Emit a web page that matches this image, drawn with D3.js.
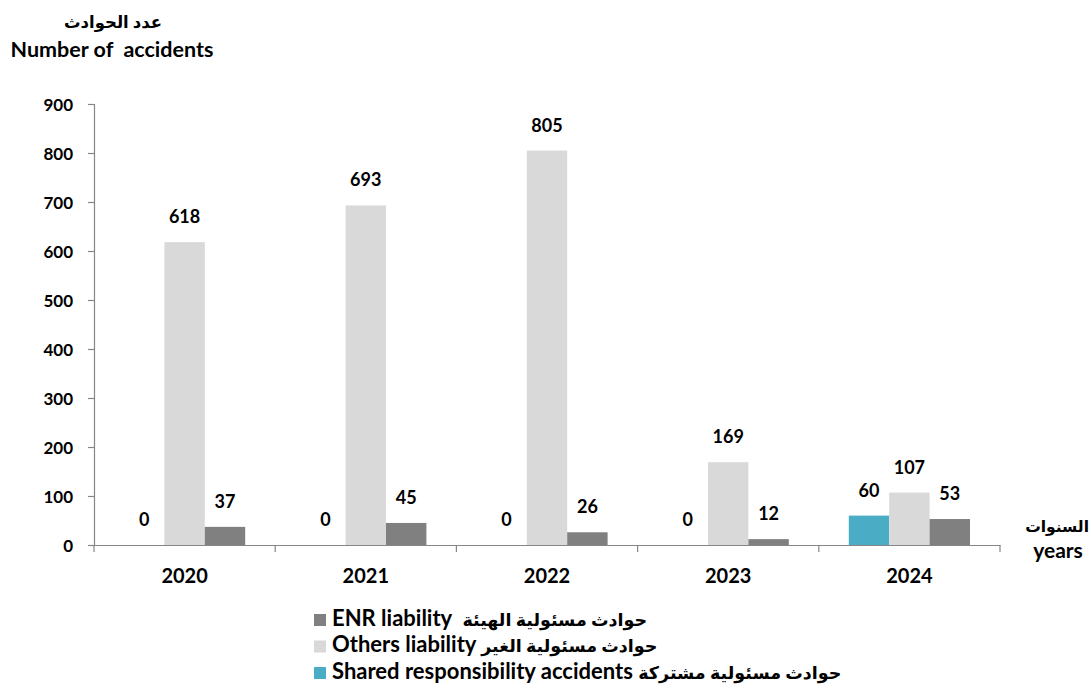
<!DOCTYPE html>
<html>
<head>
<meta charset="utf-8">
<script src="https://cdn.jsdelivr.net/npm/d3@7"></script>
<style>
  body { margin: 0; background: #fff; }
  text { font-family: Lato, "DejaVu Sans", sans-serif; font-weight: 700; fill: #000; }
</style>
</head>
<body>
<div id="chart"></div>
<script>
// chart data
const years = ["2020", "2021", "2022", "2023", "2024"];
const seriesNames = ["shared", "others", "enr"];
const sharedValues = [0, 0, 0, 0, 60];
const othersValues = [618, 693, 805, 169, 107];
const enrValues = [37, 45, 26, 12, 53];
const yTicks = [0, 100, 200, 300, 400, 500, 600, 700, 800, 900];
const legendEnglish = ["ENR liability  ", "Others liability ", "Shared responsibility accidents "];
const legendArabic = ["حوادث مسئولية الهيئة", "حوادث مسئولية الغير", "حوادث مسئولية مشتركة"];

const colors = { shared: "#4bacc6", others: "#d9d9d9", enr: "#808080" };

const width = 1091, height = 698;
const margin = { left: 94, right: 91, top: 104, bottom: 153 };

const svg = d3.select('#chart')
  .append('svg')
  .attr('width', width)
  .attr('height', height);

const x = d3.scaleBand()
  .domain(years)
  .range([margin.left, width - margin.right])
  .paddingInner(0)
  .paddingOuter(0);

const xInner = d3.scaleBand()
  .domain(seriesNames)
  .range([30, x.bandwidth() - 30]);

const y = d3.scaleLinear()
  .domain([0, 900])
  .range([height - margin.bottom, margin.top]);

// build rows
const rows = years.map((yr, i) => ({
  year: yr,
  values: [
    { key: "shared", value: sharedValues[i] },
    { key: "others", value: othersValues[i] },
    { key: "enr", value: enrValues[i] }
  ]
}));

// bars
const groups = svg.selectAll('g.year')
  .data(rows)
  .join('g')
  .attr('class', 'year')
  .attr('transform', d => `translate(${x(d.year)},0)`);

groups.selectAll('rect')
  .data(d => d.values)
  .join('rect')
  .attr('x', d => xInner(d.key))
  .attr('y', d => y(d.value))
  .attr('width', xInner.bandwidth())
  .attr('height', d => y(0) - y(d.value))
  .attr('fill', d => colors[d.key]);

groups.selectAll('text.lbl')
  .data(d => d.values)
  .join('text')
  .attr('class', 'lbl')
  .attr('x', d => xInner(d.key) + xInner.bandwidth() / 2)
  .attr('y', d => y(d.value) - 19)
  .attr('text-anchor', 'middle')
  .attr('font-size', '18px')
  .text(d => d.value);

// y axis
const yAxis = svg.append('g')
  .attr('transform', `translate(${margin.left},0)`)
  .call(d3.axisLeft(y).tickValues(yTicks).tickSize(6).tickPadding(15));
yAxis.selectAll('text').attr('font-size', '17px').attr('dy', '0.36em');

// x axis
const xAxis = svg.append('g')
  .attr('transform', `translate(0,${y(0)})`)
  .call(d3.axisBottom(x).tickSize(0).tickPadding(24));
xAxis.selectAll('text').attr('font-size', '20px').attr('dy', '0.71em');

// x tick marks at category boundaries
xAxis.selectAll('line.sep')
  .data(years.concat(['end']))
  .join('line')
  .attr('class', 'sep')
  .attr('x1', (d, i) => i < years.length ? x(d) : x.range()[1])
  .attr('x2', (d, i) => i < years.length ? x(d) : x.range()[1])
  .attr('y1', 0)
  .attr('y2', 7);

svg.selectAll('.domain, .tick line, line.sep')
  .attr('stroke', '#868686')
  .attr('stroke-width', 1.2);

// axis titles
svg.append('text')
  .attr('x', 113).attr('y', 28)
  .attr('text-anchor', 'middle')
  .attr('font-size', '16.5px')
  .text('عدد الحوادث');
svg.append('text')
  .attr('x', 112).attr('y', 57)
  .attr('text-anchor', 'middle')
  .attr('font-size', '21.5px')
  .style('white-space', 'pre')
  .text('Number of  accidents');

svg.append('text')
  .attr('x', 1089).attr('y', 532)
  .attr('text-anchor', 'end')
  .attr('font-size', '15.5px')
  .text('السنوات');
svg.append('text')
  .attr('x', 1058).attr('y', 558)
  .attr('text-anchor', 'middle')
  .attr('font-size', '21px')
  .text('years');

// legend
const legendKeys = ["enr", "others", "shared"];
const legend = svg.append('g');
legendKeys.forEach((k, i) => {
  const ly = 620 + i * 26.5;
  legend.append('rect')
    .attr('x', 314).attr('y', ly - 6)
    .attr('width', 12).attr('height', 12)
    .attr('fill', colors[k]);
  const t = legend.append('text')
    .attr('x', 332).attr('y', ly)
    .attr('dy', '0.36em')
    .style('white-space', 'pre');
  t.append('tspan').attr('font-size', '22px').text(legendEnglish[i]);
  t.append('tspan').attr('font-size', '17.5px').text(legendArabic[i]);
});
</script>
</body>
</html>
